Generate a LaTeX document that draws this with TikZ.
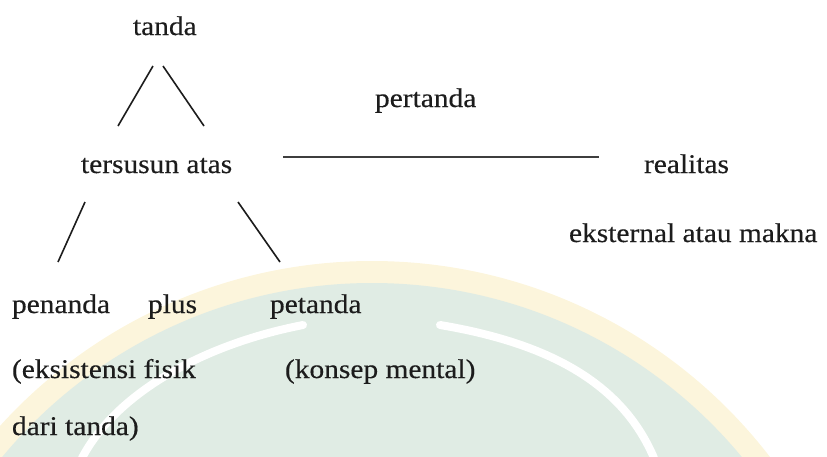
\documentclass[tikz,border=0pt]{standalone}
\usepackage{fontspec}
\setmainfont{Liberation Serif}[FakeBold=0.35]
\definecolor{wmyellow}{HTML}{FCF5DC}
\definecolor{wmgreen}{HTML}{E0ECE4}
\definecolor{ink}{HTML}{1C1C1C}
\newcommand{\stretchtext}[1]{\scalebox{1.09}[1]{#1}}
\begin{document}
\begin{tikzpicture}[x=1pt,y=-1pt,
  lbl/.style={anchor=base west,inner sep=0pt,outer sep=0pt,text=ink,
    font=\fontsize{27}{32}\selectfont},
  conn/.style={draw=ink,line width=1.6pt},
  hconn/.style={draw=ink!85,line width=2.2pt},
  wmarc/.style={draw=white,line width=8pt,line cap=round}]
\useasboundingbox (0,0) rectangle (827,456);
% faint watermark in the background
\begin{scope}
\clip (0,0) rectangle (827,456);
\fill[wmyellow] (372,763) circle[radius=502];
\fill[wmgreen] (372,763) circle[radius=480];
\draw[wmarc] (303,325) .. controls (200,345) and (115,395) .. (82,458);
\draw[wmarc] (440,325) .. controls (560,345) and (625,390) .. (654,458);
\end{scope}
% texts
\node[lbl] (tanda) at (133,35) {\stretchtext{tanda}};
\node[lbl] (pertanda) at (375,107) {\stretchtext{pertanda}};
\node[lbl] (tersusun) at (81,173) {\stretchtext{tersusun atas}};
\node[lbl] (realitas) at (644,173) {\stretchtext{realitas}};
\node[lbl] (eksternal) at (569,242) {\stretchtext{eksternal atau makna}};
\node[lbl] (penanda) at (12,313) {\stretchtext{penanda}};
\node[lbl] (plus) at (148,313) {\stretchtext{plus}};
\node[lbl] (petanda) at (270,313) {\stretchtext{petanda}};
\node[lbl] (eksistensi) at (12,378) {\stretchtext{(eksistensi fisik}};
\node[lbl] (konsep) at (285,378) {\stretchtext{(konsep mental)}};
\node[lbl] (dari) at (12,435) {\stretchtext{dari tanda)}};
% connector end points
\coordinate (a1) at (153,66);  \coordinate (a2) at (118,126);
\coordinate (b1) at (163,66);  \coordinate (b2) at (204,126);
\coordinate (c1) at (85,202);  \coordinate (c2) at (58,262);
\coordinate (d1) at (238,202); \coordinate (d2) at (280,262);
\coordinate (h1) at (283,157); \coordinate (h2) at (599,157);
\draw[conn] (a1) -- (a2);
\draw[conn] (b1) -- (b2);
\draw[conn] (c1) -- (c2);
\draw[conn] (d1) -- (d2);
\draw[hconn] (h1) -- (h2);
\end{tikzpicture}
\end{document}
